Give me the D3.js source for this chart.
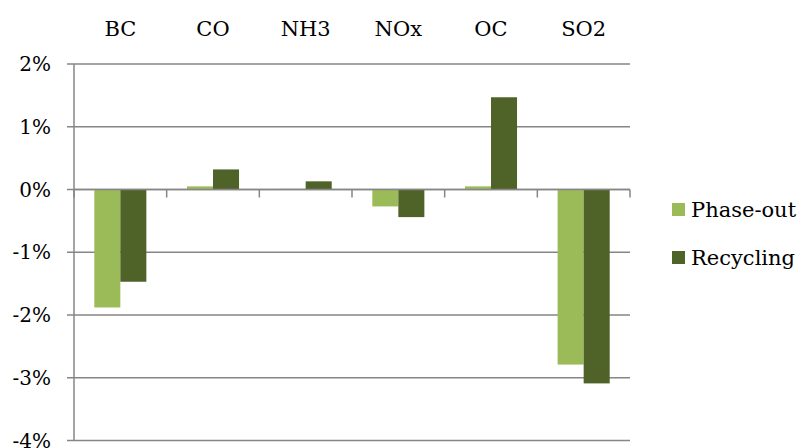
<!DOCTYPE html>
<html>
<head>
<meta charset="utf-8">
<script src="https://cdn.jsdelivr.net/npm/d3@7"></script>
<style>
  html, body { margin: 0; padding: 0; background: #fff; }
  svg text { font-family: "DejaVu Serif", "Liberation Serif", serif; fill: #000; }
</style>
</head>
<body>
<svg id="chart" width="800" height="448"></svg>
<script>
// Emission changes by pollutant, in percent
const categories = ["BC", "CO", "NH3", "NOx", "OC", "SO2"];
const phaseOut  = [-1.88, 0.05, 0.01, -0.27, 0.05, -2.79];
const recycling = [-1.47, 0.32, 0.13, -0.44, 1.47, -3.09];
const seriesNames = ["Phase-out", "Recycling"];
const yTicks = [2, 1, 0, -1, -2, -3, -4];

const colors = { "Phase-out": "#9bbb59", "Recycling": "#4f6228" };
const gridColor = "#868686";

const svg = d3.select("#chart");
const plot = { left: 74, right: 630, top: 64, bottom: 440.5 };

const x = d3.scaleBand().domain(categories).range([plot.left, plot.right]).paddingInner(0).paddingOuter(0);
const y = d3.scaleLinear().domain([-4, 2]).range([plot.bottom, plot.top]);
const inner = d3.scaleBand().domain(seriesNames).range([0, x.bandwidth()]).paddingInner(0).paddingOuter(0.78);

const table = categories.map((c, i) => ({ cat: c, "Phase-out": phaseOut[i], "Recycling": recycling[i] }));

// Horizontal gridlines with short ticks left of the axis
svg.append("g").selectAll("line.grid").data(yTicks).join("line")
  .attr("x1", plot.left - 7).attr("x2", plot.right)
  .attr("y1", d => y(d)).attr("y2", d => y(d))
  .attr("stroke", gridColor).attr("stroke-width", 1.5);

// Y tick labels
svg.append("g").selectAll("text").data(yTicks).join("text")
  .attr("x", 51).attr("y", d => y(d))
  .attr("dy", "0.35em").attr("text-anchor", "end")
  .style("font-size", "20px")
  .text(d => d + "%");

// Vertical value axis
svg.append("line")
  .attr("x1", plot.left).attr("x2", plot.left)
  .attr("y1", plot.top).attr("y2", plot.bottom)
  .attr("stroke", gridColor).attr("stroke-width", 1.5);

// Bars
const groups = svg.append("g").selectAll("g").data(table).join("g")
  .attr("transform", d => `translate(${x(d.cat)},0)`);
groups.selectAll("rect").data(d => seriesNames.map(s => ({ s, v: d[s] }))).join("rect")
  .attr("x", d => inner(d.s))
  .attr("width", inner.bandwidth())
  .attr("y", d => y(Math.max(0, d.v)))
  .attr("height", d => Math.abs(y(d.v) - y(0)))
  .attr("fill", d => colors[d.s]);

// Category tick marks on the zero line
const boundaries = categories.map(c => x(c)).concat([plot.right]);
svg.append("g").selectAll("line").data(boundaries).join("line")
  .attr("x1", d => d).attr("x2", d => d)
  .attr("y1", y(0)).attr("y2", y(0) + 8)
  .attr("stroke", gridColor).attr("stroke-width", 1.5);

// Zero line on top of bars
svg.append("line")
  .attr("x1", plot.left).attr("x2", plot.right)
  .attr("y1", y(0)).attr("y2", y(0))
  .attr("stroke", gridColor).attr("stroke-width", 1.5);

// Category labels across the top
svg.append("g").selectAll("text").data(categories).join("text")
  .attr("x", d => x(d) + x.bandwidth() / 2)
  .attr("y", 36)
  .attr("text-anchor", "middle")
  .style("font-size", "21px")
  .text(d => d);

// Legend
const legend = svg.append("g").selectAll("g").data(seriesNames).join("g")
  .attr("transform", (d, i) => `translate(672,${210 + i * 48})`);
legend.append("rect")
  .attr("x", 0).attr("y", -7).attr("width", 13).attr("height", 13)
  .attr("fill", d => colors[d]);
legend.append("text")
  .attr("x", 19).attr("y", 0).attr("dy", "0.35em")
  .style("font-size", "21px")
  .text(d => d);
</script>
</body>
</html>
